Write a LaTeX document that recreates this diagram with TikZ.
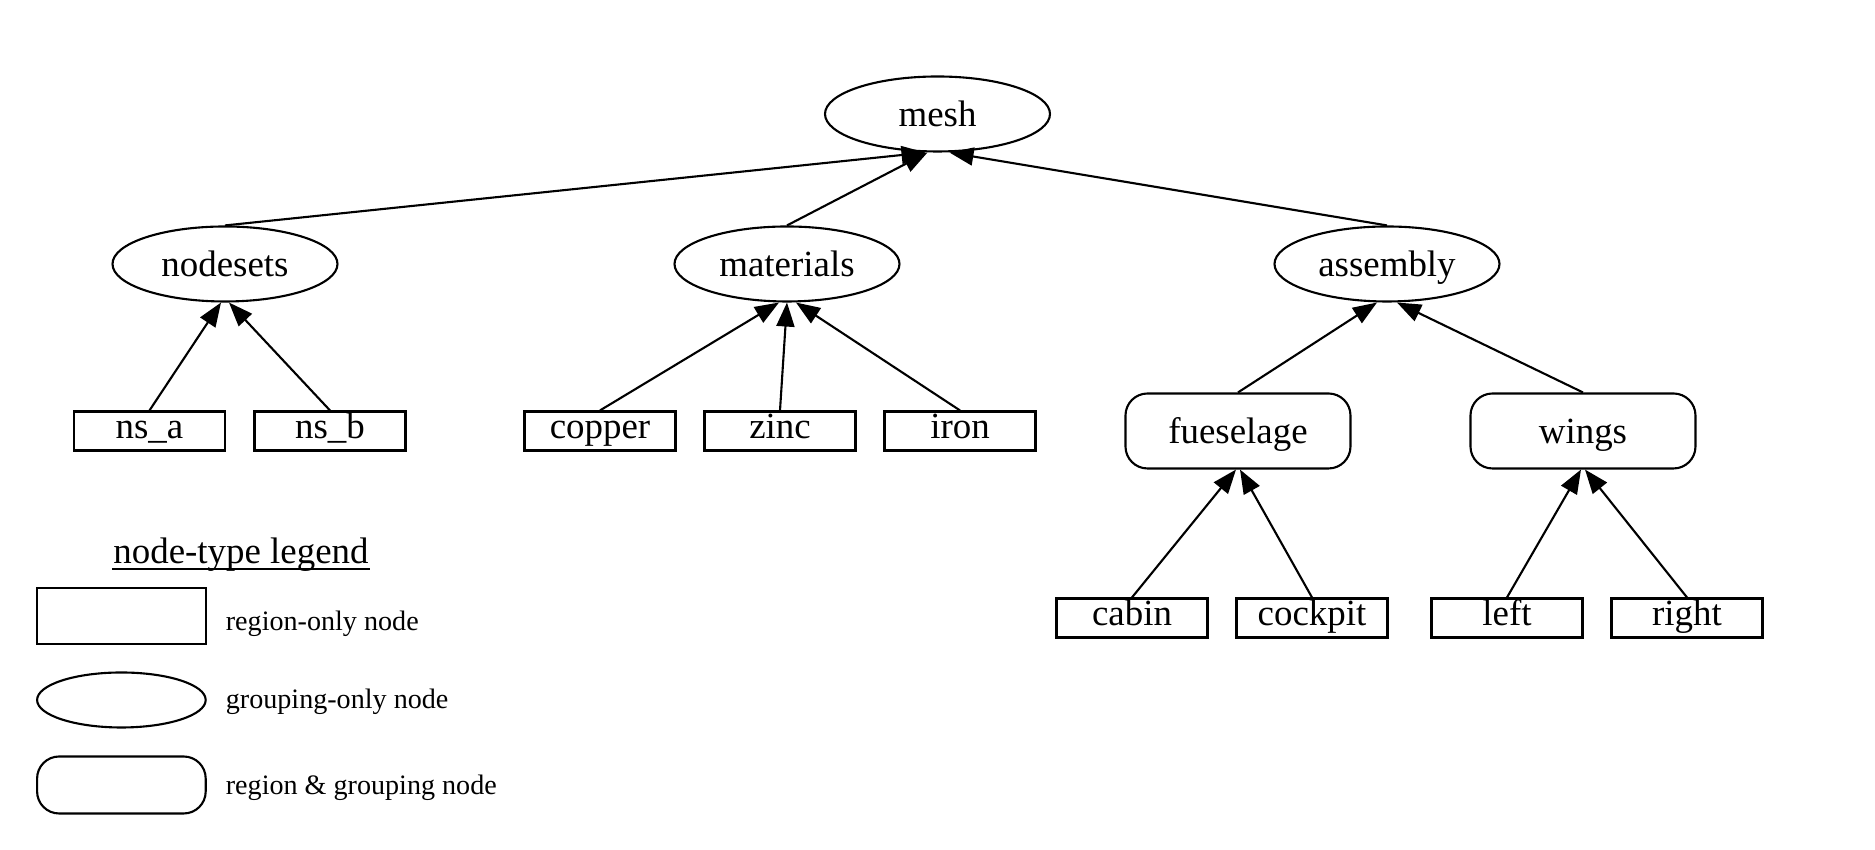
\documentclass[tikz,border=0pt]{standalone}
\usepackage{fontspec}
\setmainfont{Liberation Serif}
\usetikzlibrary{arrows.meta}
\usetikzlibrary{shapes.geometric}

\begin{document}
\begin{tikzpicture}[line width=0.6pt,
    txt/.style={font=\fontsize{10.5}{12}\selectfont},
    grp/.style={txt, draw, ellipse, minimum width=2.25cm, minimum height=0.75cm, inner sep=0pt, text height=0.3cm, text depth=0.04cm},
    regrp/.style={txt, draw, rounded corners=0.22cm, minimum width=2.25cm, minimum height=0.75cm, inner sep=0pt, text height=0.3cm, text depth=0.04cm},
    reg/.style={txt, draw, minimum width=1.51cm, minimum height=0.39cm, inner sep=0pt, text height=0.27cm, text depth=0.11cm},
    arr/.style={-{Triangle[length=0.24cm, width=0.18cm]}},
    lbl/.style={anchor=west, inner sep=0pt, font=\fontsize{8}{9.6}\selectfont}]
    \useasboundingbox (0,0) rectangle (18.75,-8.5);
    \node[grp] (mesh) at (9.375,-1.14) {mesh};
    \node[grp] (nodesets) at (2.25,-2.64) {nodesets};
    \node[grp] (materials) at (7.87,-2.64) {materials};
    \node[grp] (assembly) at (13.87,-2.64) {assembly};
    \node[reg] (ns_a) at (1.495,-4.31) {ns\_a};
    \node[reg] (ns_b) at (3.30,-4.31) {ns\_b};
    \node[reg] (copper) at (6.00,-4.31) {copper};
    \node[reg] (zinc) at (7.80,-4.31) {zinc};
    \node[reg] (iron) at (9.60,-4.31) {iron};
    \node[regrp] (fueselage) at (12.38,-4.31) {fueselage};
    \node[regrp] (wings) at (15.83,-4.31) {wings};
    \node[reg] (cabin) at (11.32,-6.18) {cabin};
    \node[reg] (cockpit) at (13.12,-6.18) {cockpit};
    \node[reg] (left) at (15.07,-6.18) {left};
    \node[reg] (right) at (16.87,-6.18) {right};
    \draw[arr] (nodesets.north) -- ([xshift=-0.12cm]mesh.south);
    \draw[arr] (materials.north) -- ([xshift=-0.1cm]mesh.south);
    \draw[arr] (assembly.north) -- ([xshift=0.12cm]mesh.south);
    \draw[arr] (ns_a.north) -- ([xshift=-0.04cm]nodesets.south);
    \draw[arr] (ns_b.north) -- ([xshift=0.04cm]nodesets.south);
    \draw[arr] (copper.north) -- ([xshift=-0.08cm]materials.south);
    \draw[arr] (zinc.north) -- (materials.south);
    \draw[arr] (iron.north) -- ([xshift=0.09cm]materials.south);
    \draw[arr] (fueselage.north) -- ([xshift=-0.1cm]assembly.south);
    \draw[arr] (wings.north) -- ([xshift=0.1cm]assembly.south);
    \draw[arr] (cabin.north) -- ([xshift=-0.02cm]fueselage.south);
    \draw[arr] (cockpit.north) -- ([xshift=0.02cm]fueselage.south);
    \draw[arr] (left.north) -- ([xshift=-0.02cm]wings.south);
    \draw[arr] (right.north) -- ([xshift=0.02cm]wings.south);
    \node[txt, anchor=base, inner sep=0pt] (legend) at (2.41,-5.64) {node-type legend};
    \draw (legend.base west) ++(0,-0.05) -- ([yshift=-0.05cm]legend.base east);
    \node[draw, minimum width=1.686cm, minimum height=0.565cm] (keyreg) at (1.214,-6.16) {};
    \node[draw, ellipse, minimum width=1.686cm, minimum height=0.55cm] (keygrp) at (1.214,-7.00) {};
    \node[draw, rounded corners=0.22cm, minimum width=1.686cm, minimum height=0.57cm] (keyregrp) at (1.214,-7.85) {};
    \node[lbl] (keyregtxt) at (2.248,-6.235) {region-only node};
    \node[lbl] (keygrptxt) at (2.248,-7.015) {grouping-only node};
    \node[lbl] (keyregrptxt) at (2.248,-7.875) {region \& grouping node};
  \end{tikzpicture}
\end{document}
